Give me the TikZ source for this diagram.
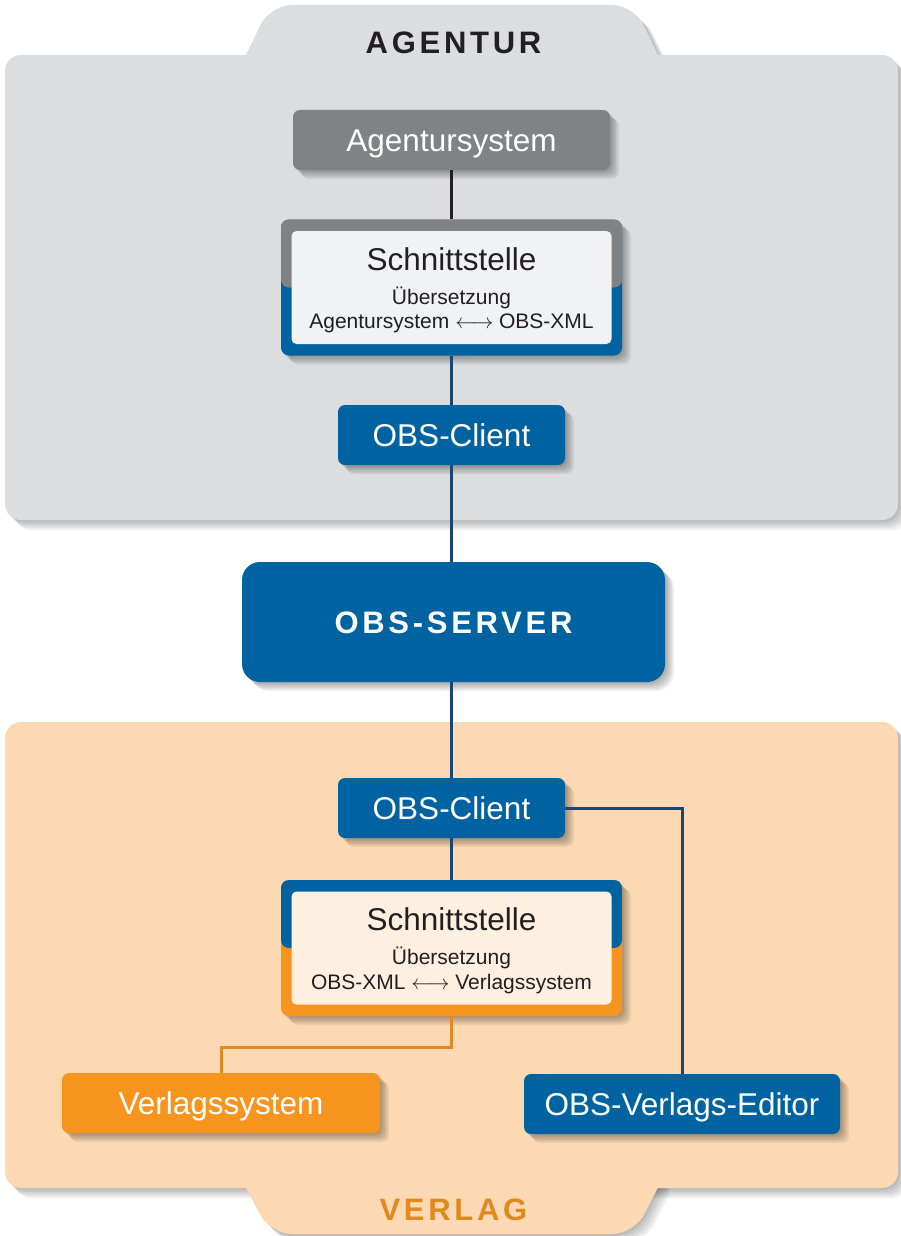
\documentclass[tikz,border=0pt]{standalone}
\usepackage{fontspec}
\setmainfont{Liberation Sans}
\newfontfamily\widefont[LetterSpace=12]{Liberation Sans}

\definecolor{agbg}{HTML}{DCDDDF}
\definecolor{vlbg}{HTML}{FCD9B2}
\definecolor{obsblue}{HTML}{0063A1}
\definecolor{linenavy}{HTML}{1A4672}
\definecolor{sysgray}{HTML}{808285}
\definecolor{obsorange}{HTML}{F7941E}
\definecolor{lineorange}{HTML}{E28A20}
\definecolor{innergray}{HTML}{F1F2F3}
\definecolor{innercream}{HTML}{FEF0E0}
\definecolor{inkdark}{HTML}{231F20}
\definecolor{verlagtxt}{HTML}{E0891E}

\tikzset{
    shadowstep/.style={preaction={draw=none, fill=black, fill opacity=0.06, transform canvas={xshift=#1, yshift=-#1}}},
    boxshadow/.style={shadowstep=1.5pt, shadowstep=3pt, shadowstep=4.5pt, shadowstep=6pt, shadowstep=7.5pt, shadowstep=9pt},
    panelshadow/.style={shadowstep=2pt, shadowstep=4pt, shadowstep=6pt, shadowstep=8pt, shadowstep=10pt}
}

\begin{document}
\begin{tikzpicture}[x=1pt, y=-1pt,
    sysbox/.style={rectangle, rounded corners=7pt, inner sep=0pt, minimum height=60pt, text=white,
        font=\fontsize{31.5}{36}\selectfont, text height=22.5pt, text depth=0pt, boxshadow},
    framebox/.style={rectangle, rounded corners=8pt, inner sep=0pt, minimum width=341pt, minimum height=136pt, boxshadow},
    innerbox/.style={rectangle, rounded corners=5pt, inner sep=0pt, minimum width=320pt, minimum height=113pt},
    titletext/.style={anchor=base, inner sep=0pt, text=inkdark, font=\fontsize{31.5}{36}\selectfont},
    subtext/.style={anchor=base, inner sep=0pt, text=inkdark, font=\fontsize{21}{24}\selectfont},
    paneltext/.style={anchor=base, inner sep=0pt, font=\fontsize{31}{36}\selectfont\widefont\bfseries},
    link/.style={line width=3pt, linenavy}]
\useasboundingbox (0,0) rectangle (900,1236);

% panels
\path[panelshadow, rounded corners=22pt] (236.4,75) -- (270,5) -- (634,5) -- (667.6,75) -- cycle;
\path[panelshadow, rounded corners=16pt] (5,55) rectangle (898,520);
\fill[agbg, rounded corners=22pt] (236.4,75) -- (270,5) -- (634,5) -- (667.6,75) -- cycle;
\fill[agbg, rounded corners=16pt] (5,55) rectangle (898,520);

\path[panelshadow, rounded corners=22pt] (236,1168) -- (270,1234) -- (634,1234) -- (668,1168) -- cycle;
\path[panelshadow, rounded corners=16pt] (5,722) rectangle (898,1188);
\fill[vlbg, rounded corners=22pt] (236,1168) -- (270,1234) -- (634,1234) -- (668,1168) -- cycle;
\fill[vlbg, rounded corners=16pt] (5,722) rectangle (898,1188);

\node[paneltext, text=inkdark] (agentur) at (453.5,54) {AGENTUR};
\node[paneltext, text=verlagtxt] (verlag) at (453.5,1220) {VERLAG};

% Agentur
\node[sysbox, fill=sysgray, minimum width=317pt] (agsys) at (451.5,140) {Agentursystem};
\node[framebox, fill=obsblue, path picture={\fill[sysgray] (path picture bounding box.north west) rectangle (path picture bounding box.east);}] (aframe) at (451.5,287.5) {};
\node[innerbox, fill=innergray] (ainner) at (aframe) {};
\node[titletext] (atitle) at (451.5,270) {Schnittstelle};
\node[subtext] (aueber) at (451.5,304) {Übersetzung};
\node[subtext] (atrans) at (451.5,328) {Agentursystem $\longleftrightarrow$ OBS-XML};
\node[sysbox, fill=obsblue, minimum width=227pt] (aclient) at (451.5,435) {OBS-Client};

% Server
\node[sysbox, fill=obsblue, minimum width=423pt, minimum height=120pt, rounded corners=18pt,
    font=\fontsize{31}{36}\selectfont\widefont\bfseries] (server) at (453.5,622) {OBS-SERVER};

% Verlag
\node[sysbox, fill=obsblue, minimum width=227pt] (vclient) at (451.5,808) {OBS-Client};
\node[framebox, fill=obsorange, path picture={\fill[obsblue] (path picture bounding box.north west) rectangle (path picture bounding box.east);}] (vframe) at (451.5,948) {};
\node[innerbox, fill=innercream] (vinner) at (vframe) {};
\node[titletext] (vtitle) at (451.5,930) {Schnittstelle};
\node[subtext] (vueber) at (451.5,964) {Übersetzung};
\node[subtext] (vtrans) at (451.5,989) {OBS-XML $\longleftrightarrow$ Verlagssystem};
\node[sysbox, fill=obsorange, minimum width=318pt] (vsys) at (221,1103) {Verlagssystem};
\node[sysbox, fill=obsblue, minimum width=316pt] (editor) at (682,1104) {OBS-Verlags-Editor};

% connectors
\draw[link, inkdark] (agsys.south) -- (aframe.north);
\draw[link] (aframe.south) -- (aclient.north);
\draw[link] (aclient.south) -- (server.north -| aclient.south);
\draw[link] (server.south -| vclient.north) -- (vclient.north);
\draw[link] (vclient.south) -- (vframe.north);
\draw[link] (vclient.east) -| (editor.north);
\draw[link, lineorange] (vframe.south) -- ++(0,31) -| (vsys.north);
\end{tikzpicture}
\end{document}
